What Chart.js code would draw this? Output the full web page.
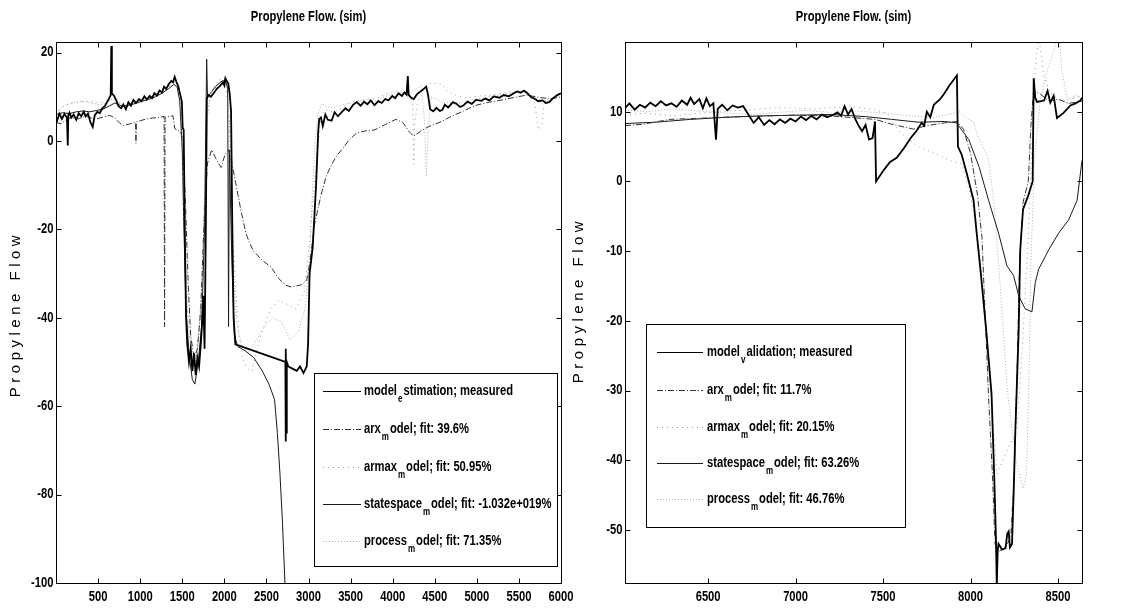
<!DOCTYPE html>
<html><head><meta charset="utf-8">
<script src="https://cdn.jsdelivr.net/npm/chart.js@4.4.1/dist/chart.umd.min.js"></script>
<style>
html,body{margin:0;padding:0;background:#fff;}
#wrap{position:relative;width:1122px;height:610px;background:#fff;}
canvas{position:absolute;left:0;top:0;}
</style></head><body>
<div id="wrap"><canvas id="c1"></canvas><canvas id="c2"></canvas></div>
<script>
// ---------- data: left panel (estimation) ----------
const estXTicks = [500,1000,1500,2000,2500,3000,3500,4000,4500,5000,5500,6000];
const estYTicks = [-100,-80,-60,-40,-20,0,20];
const estMeasured = [[0,5.5],[13,4.6],[40,6.2],[70,5.0],[100,6.1],[130,5.3],[140,-1],[146,5.8],[160,6.4],[182,5.3],[210,6.0],[240,4.8],[270,6.3],[300,5.6],[330,6.6],[352,5.6],[380,6.2],[410,4.2],[436,3.2],[460,5.8],[490,6.6],[521,6.3],[550,7.4],[580,7.9],[606,8.8],[630,9.6],[650,10.4],[657,21.5],[664,10.8],[690,10.2],[720,9.0],[745,7.8],[775,7.4],[800,8.3],[830,7.2],[860,8.8],[890,8.0],[920,9.3],[950,8.6],[987,9.5],[1015,9.0],[1050,10.1],[1080,9.4],[1114,10.2],[1140,9.7],[1170,10.8],[1200,10.3],[1230,11.4],[1260,11.0],[1284,12.3],[1310,11.8],[1340,12.9],[1370,13.6],[1390,13.3],[1410,14.5],[1430,13.4],[1453,12.3],[1475,10.6],[1496,8.8],[1505,3.0],[1517,2.5],[1530,-20],[1545,-40],[1560,-46],[1580,-50],[1600,-47],[1620,-52],[1640,-48],[1660,-53],[1680,-49],[1700,-51],[1720,-46],[1740,-40],[1750,-35],[1765,-47],[1780,-20],[1792,9.5],[1810,10.4],[1840,10.0],[1877,10.9],[1910,11.8],[1940,12.3],[1965,12.8],[1983,13.3],[2000,12.6],[2012,14.2],[2030,13.5],[2047,13.0],[2065,10.5],[2080,6.7],[2095,-20],[2110,-40],[2131,-46],[2725,-50],[2728,-68],[2732,-47],[2736,-66],[2742,-50],[2760,-51],[2809,-51.5],[2860,-52],[2900,-51],[2940,-52.5],[2979,-51],[2995,-46],[3013,-30],[3050,-24],[3090,-10],[3115,2],[3127,5],[3148,5.3],[3170,3.4],[3200,6.0],[3230,4.8],[3275,4.6],[3310,6.5],[3350,5.6],[3403,6.7],[3440,7.4],[3480,6.8],[3530,8.2],[3572,8.8],[3620,8.0],[3660,8.9],[3700,8.3],[3740,9.2],[3784,8.1],[3830,9.0],[3870,8.6],[3911,9.5],[3950,9.2],[3996,10.2],[4030,9.7],[4070,10.8],[4110,10.2],[4140,11.0],[4165,10.5],[4180,14.7],[4190,10.4],[4220,9.8],[4250,9.5],[4290,10.6],[4330,11.2],[4370,11.8],[4398,12.3],[4420,10.5],[4445,7.2],[4483,6.7],[4520,7.5],[4560,6.8],[4589,7.0],[4620,8.2],[4660,7.6],[4716,8.8],[4760,8.4],[4800,7.7],[4843,8.1],[4890,8.9],[4940,8.4],[4990,9.3],[5055,9.1],[5100,9.6],[5150,9.2],[5200,10.1],[5267,9.8],[5320,10.4],[5380,10.1],[5440,10.8],[5480,11.2],[5521,10.9],[5560,11.4],[5600,10.8],[5640,10.0],[5691,9.5],[5730,9.0],[5780,9.2],[5820,8.6],[5860,8.8],[5900,9.6],[5940,10.2],[5966,10.5],[6000,10.8]];
const estArx = [[0,4.2],[60,3.9],[120,4.8],[182,5.3],[260,5.0],[352,5.6],[420,5.2],[480,5.0],[560,5.4],[640,5.8],[700,5.2],[760,4.0],[800,3.5],[860,3.8],[945,4.2],[950,-0.5],[956,4.3],[1000,4.6],[1060,4.9],[1150,5.2],[1250,5.4],[1284,5.6],[1290,-42],[1296,5.4],[1330,5.5],[1390,5.7],[1411,2.8],[1450,2.4],[1480,2.1],[1510,0],[1540,-15],[1570,-32],[1600,-44],[1640,-49],[1680,-47],[1720,-38],[1760,-18],[1800,-5],[1850,-2],[1900,-4],[1960,-6],[2010,-3],[2050,-2],[2090,-5],[2140,-10],[2200,-16],[2258,-21],[2300,-23],[2343,-24.8],[2450,-27],[2555,-28.5],[2640,-31],[2725,-32.6],[2790,-33],[2852,-32.8],[2920,-32.5],[2979,-31.5],[3020,-27],[3070,-19],[3148,-12.3],[3210,-8],[3275,-5.3],[3340,-3.2],[3403,-1.8],[3480,0.2],[3572,1.8],[3680,2.3],[3784,2.5],[3900,3.6],[4038,4.9],[4120,4.2],[4200,2.0],[4250,1.1],[4330,2.2],[4420,3.2],[4500,3.8],[4589,4.5],[4700,5.6],[4843,6.8],[4930,7.6],[5013,8.2],[5150,8.8],[5300,9.3],[5450,9.9],[5600,10.4],[5750,9.8],[5900,9.6],[6000,10.0]];
const estArmax = [[0,6],[50,7.2],[100,8.0],[180,8.6],[260,8.8],[352,9.0],[440,8.9],[520,8.6],[600,9.2],[700,9.5],[800,8.0],[900,8.2],[1000,8.6],[1100,9.5],[1200,10.6],[1300,11.8],[1380,13.0],[1430,12.5],[1470,8],[1500,-5],[1530,-25],[1560,-38],[1600,-45],[1640,-52],[1670,-48],[1700,-42],[1740,-30],[1770,-10],[1800,6],[1840,11],[1900,13],[1960,14],[2010,13],[2060,5],[2100,-20],[2140,-35],[2173,-44],[2230,-50],[2290,-51.9],[2330,-52],[2385,-47],[2450,-43],[2550,-38],[2650,-36],[2750,-37],[2850,-38],[2950,-34],[3000,-25],[3060,-12],[3110,-2],[3150,6],[3200,7],[3300,6.5],[3400,7.5],[3500,8.8],[3600,9.2],[3700,9.5],[3800,9.6],[3900,10.5],[4000,11.2],[4100,11.4],[4200,10.8],[4240,8],[4250,-5.3],[4262,4],[4300,9],[4380,11.5],[4460,13.2],[4530,13.0],[4590,12.8],[4650,11.2],[4750,10.4],[4850,9.8],[5000,10.1],[5150,10.4],[5300,10.8],[5450,11.3],[5600,11.0],[5690,8.5],[5730,2.5],[5775,4],[5800,8.5],[5900,9.8],[6000,10.5]];
const estStatespace = [[0,6.0],[80,6.4],[160,6.2],[240,6.6],[320,6.8],[400,6.6],[480,6.9],[560,7.2],[640,8.0],[700,8.6],[780,7.9],[860,8.0],[940,8.5],[1020,9.0],[1100,9.4],[1180,10.0],[1260,10.8],[1340,11.9],[1400,12.8],[1440,12.2],[1470,9],[1500,-2],[1520,-20],[1545,-38],[1580,-48],[1620,-54],[1650,-55],[1690,-50],[1730,-42],[1765,-20],[1790,18.5],[1800,10],[1850,11.2],[1900,12.4],[1960,13.4],[2010,13.8],[2040,12],[2050,-42],[2060,-2],[2090,-28],[2120,-44],[2160,-46.5],[2250,-47.5],[2350,-49],[2450,-52],[2530,-55],[2597,-58.5],[2630,-66],[2660,-75],[2690,-86],[2720,-100],[2750,-116]];
const estProcess = [[0,6.5],[60,7.5],[120,8.2],[200,8.6],[280,9.0],[360,8.8],[440,8.5],[520,8.2],[600,8.6],[680,9.6],[760,8.4],[840,7.8],[920,8.4],[1000,9.0],[1080,9.6],[1160,10.2],[1240,10.9],[1320,12.0],[1400,13.5],[1450,13],[1480,10],[1510,-8],[1540,-28],[1570,-42],[1610,-48],[1650,-50],[1690,-46],[1730,-36],[1760,-15],[1790,4],[1830,10],[1880,12],[1940,13],[2000,14],[2040,11],[2070,0],[2100,-25],[2140,-40],[2200,-46],[2280,-48],[2380,-45],[2480,-42],[2580,-40],[2680,-41],[2780,-45],[2880,-43],[2960,-38],[3010,-28],[3050,-10],[3080,0],[3110,6],[3160,8.5],[3220,7.8],[3300,7.5],[3400,8.2],[3500,8.6],[3600,9.1],[3700,9.3],[3800,9.0],[3900,10],[4000,10.6],[4100,11],[4200,10.4],[4280,11.8],[4340,12.6],[4380,4],[4400,-8],[4420,2],[4460,10],[4520,9.5],[4600,8.6],[4700,8.8],[4800,8.6],[4900,9.2],[5000,9.5],[5100,9.8],[5200,10.3],[5300,10.5],[5400,10.8],[5500,11.4],[5600,11.2],[5700,9.6],[5800,9.0],[5900,9.8],[6000,10.6]];
const estLegend = [["model","e","stimation; measured"],["arx","m","odel; fit: 39.6%"],["armax","m","odel; fit: 50.95%"],["statespace","m","odel; fit: -1.032e+019%"],["process","m","odel; fit: 71.35%"]];

// ---------- data: right panel (validation) ----------
const valXTicks = [6500,7000,7500,8000,8500];
const valYTicks = [-50,-40,-30,-20,-10,0,10];
const valMeasured = [[6025,10.5],[6050,11.2],[6080,10.3],[6110,11.0],[6140,10.6],[6170,11.3],[6200,10.8],[6230,11.5],[6260,10.9],[6290,11.2],[6320,10.7],[6350,11.6],[6380,11.0],[6400,12.0],[6420,11.1],[6450,11.8],[6470,10.5],[6490,11.9],[6510,10.8],[6530,11.2],[6545,6.0],[6555,10.4],[6580,11.0],[6610,10.2],[6640,10.9],[6670,10.6],[6700,10.8],[6730,9.6],[6760,8.4],[6790,9.2],[6820,8.1],[6850,8.8],[6880,8.2],[6910,8.9],[6940,8.4],[6970,9.0],[7000,8.6],[7030,9.3],[7060,8.8],[7090,9.4],[7120,8.9],[7150,9.6],[7180,9.2],[7210,9.5],[7240,9.9],[7260,9.4],[7280,10.8],[7300,9.6],[7320,10.4],[7340,9.0],[7360,8.0],[7380,7.2],[7400,8.1],[7420,6.0],[7440,6.2],[7454,8.6],[7460,0],[7500,1.5],[7540,2.8],[7578,3.4],[7620,4.8],[7660,6.3],[7693,7.3],[7720,8.4],[7735,8.0],[7750,10],[7770,9.2],[7790,11.0],[7826,11.8],[7850,12.6],[7880,13.8],[7910,14.8],[7922,15.2],[7928,5.0],[7950,3.8],[7980,1.0],[8017,-2.7],[8035,-7.4],[8060,-13.5],[8090,-21.5],[8120,-30.5],[8135,-42],[8145,-51],[8150,-58],[8155,-53],[8160,-52],[8180,-52.8],[8200,-52.6],[8210,-50.5],[8218,-50.2],[8225,-52.5],[8237,-52],[8246,-45],[8256,-35.7],[8265,-29],[8275,-21.5],[8284,-9.8],[8300,-4],[8330,-2],[8355,0],[8361,14.8],[8370,12],[8380,11.4],[8420,11.6],[8440,13],[8456,11.3],[8475,12.3],[8494,9.1],[8530,9.8],[8571,10.9],[8600,11.2],[8628,11.6],[8637,12.0]];
const valArx = [[6025,8.0],[6128,8.2],[6281,8.9],[6490,9.1],[6700,9.3],[6987,9.5],[7200,9.4],[7454,8.9],[7550,8.2],[7674,7.5],[7750,8.0],[7850,8.4],[7922,8.6],[7960,7.5],[8000,4],[8040,-2],[8065,-8],[8085,-20],[8103,-31],[8125,-42],[8140,-52],[8165,-53],[8200,-52.5],[8230,-51],[8250,-42],[8265,-28],[8280,-12],[8300,-3],[8330,0],[8345,8],[8360,13],[8400,12.5],[8450,11.5],[8500,11.8],[8560,11.2],[8637,11.5]];
const valArmax = [[6025,9.6],[6150,9.8],[6300,9.4],[6500,9.9],[6700,10.2],[6900,10.6],[7100,10.4],[7300,10.8],[7450,10.3],[7520,9.8],[7600,7.0],[7700,5.0],[7800,4.0],[7880,3.0],[7950,2.6],[8000,-2],[8050,-10],[8100,-25],[8151,-42],[8200,-39],[8265,-35.7],[8300,-22],[8330,-8],[8350,5],[8370,16],[8389,21],[8420,15],[8460,12.5],[8520,11.5],[8580,12.0],[8637,12.2]];
const valStatespace = [[6025,8.3],[6200,8.5],[6400,8.9],[6600,9.2],[6800,9.4],[7000,9.5],[7200,9.6],[7400,9.3],[7550,8.9],[7700,8.5],[7850,8.6],[7920,8.4],[7990,6],[8050,2],[8103,-2.7],[8160,-7.4],[8208,-12.1],[8246,-13.5],[8275,-16.4],[8313,-18.3],[8351,-18.7],[8370,-14.5],[8389,-12.6],[8447,-9.8],[8504,-7.4],[8561,-5.5],[8609,-2.7],[8637,3]];
const valProcess = [[6025,10.2],[6150,10.0],[6300,10.4],[6450,10.1],[6600,9.8],[6750,9.6],[6900,9.9],[7050,10.2],[7200,9.9],[7350,10.1],[7500,9.8],[7650,9.4],[7800,9.2],[7940,10],[7980,9],[8017,8.6],[8036,6.8],[8070,5],[8103,3.2],[8132,-2.7],[8170,-15],[8210,-30],[8260,-40],[8300,-44],[8320,-42],[8332,-30],[8345,-12],[8365,3],[8400,12],[8440,16],[8480,19],[8504,23],[8520,16],[8560,11],[8600,12.5],[8637,12.0]];
const valLegend = [["model","v","alidation; measured"],["arx","m","odel; fit: 11.7%"],["armax","m","odel; fit: 20.15%"],["statespace","m","odel; fit: 63.26%"],["process","m","odel; fit: 46.76%"]];

const titleText = "Propylene Flow. (sim)";
const yLabelText = "Propylene Flow";

// ---------- styling ----------
const FONT = "'Liberation Sans', Arial, sans-serif";
const SX = 0.8; // horizontal compression to imitate a narrow face
const STYLES = [
  {borderColor:'#000', borderWidth:1.8, borderDash:[]},
  {borderColor:'#333', borderWidth:1, borderDash:[6,2,1,2]},
  {borderColor:'#9a9a9a', borderWidth:1, borderDash:[1,4]},
  {borderColor:'#1a1a1a', borderWidth:1, borderDash:[]},
  {borderColor:'#b0b0b0', borderWidth:1, borderDash:[1,2]}
];

function toXY(pairs){ return pairs.map(p => ({x:p[0], y:p[1]})); }
function makeSets(list){
  return list.map((pairs,i) => Object.assign({data: toXY(pairs), pointRadius:0, fill:false, tension:0}, STYLES[i]));
}

function narrowText(ctx, text, x, y, align, font){
  ctx.save();
  ctx.font = font;
  ctx.textAlign = align; ctx.textBaseline = 'middle';
  ctx.translate(x, y); ctx.scale(SX, 1);
  ctx.fillText(text, 0, 0);
  const w = ctx.measureText(text).width * SX;
  ctx.restore();
  return w;
}

const deco = {
  id:'deco',
  afterDatasetsDraw(chart, args, o){
    const ctx = chart.ctx, a = chart.chartArea, xs = chart.scales.x, ys = chart.scales.y;
    ctx.save();
    // box
    ctx.strokeStyle = '#000'; ctx.lineWidth = 1; ctx.setLineDash([]);
    const L = Math.round(a.left)+0.5, T = Math.round(a.top)+0.5, R = Math.round(a.right)+0.5, B = Math.round(a.bottom)+0.5;
    ctx.strokeRect(L, T, R-L, B-T);
    // inward ticks
    ctx.beginPath();
    xs.ticks.forEach(t => { const p = Math.round(xs.getPixelForValue(t.value))+0.5; ctx.moveTo(p,B); ctx.lineTo(p,B-5); ctx.moveTo(p,T); ctx.lineTo(p,T+5); });
    ys.ticks.forEach(t => { const p = Math.round(ys.getPixelForValue(t.value))+0.5; ctx.moveTo(L,p); ctx.lineTo(L+5,p); ctx.moveTo(R,p); ctx.lineTo(R-5,p); });
    ctx.stroke();
    // tick labels
    ctx.fillStyle = '#000';
    const tf = 'bold 14px ' + FONT;
    xs.ticks.forEach(t => narrowText(ctx, String(t.value), xs.getPixelForValue(t.value), B + 14, 'center', tf));
    ys.ticks.forEach(t => narrowText(ctx, String(t.value), L - 3, ys.getPixelForValue(t.value), 'right', tf));
    // legend
    const g = o.legend;
    ctx.fillStyle = '#fff';
    ctx.fillRect(g.x, g.y, g.w, g.h);
    ctx.strokeStyle = '#000';
    ctx.strokeRect(g.x+0.5, g.y+0.5, g.w, g.h);
    g.labels.forEach((parts, i) => {
      const y = g.rows[i];
      const ds = chart.data.datasets[i];
      ctx.save();
      ctx.strokeStyle = ds.borderColor; ctx.lineWidth = Math.min(ds.borderWidth, 1.2);
      ctx.setLineDash(ds.borderDash || []);
      ctx.beginPath(); ctx.moveTo(g.lx1, y+0.5); ctx.lineTo(g.lx2, y+0.5); ctx.stroke();
      ctx.restore();
      ctx.fillStyle = '#000';
      let x = g.tx;
      x += narrowText(ctx, parts[0], x, y, 'left', 'bold 14px ' + FONT) + 1;
      x += narrowText(ctx, parts[1], x, y + 8, 'left', 'bold 10px ' + FONT) + 1;
      narrowText(ctx, parts[2], x, y, 'left', 'bold 14px ' + FONT);
    });
    // title
    ctx.fillStyle = '#000';
    narrowText(ctx, titleText, (a.left+a.right)/2, 17, 'center', 'bold 14px ' + FONT);
    // y label
    ctx.translate(o.yLabelX, o.yLabelY);
    ctx.rotate(-Math.PI/2);
    ctx.font = '15px ' + FONT;
    ctx.textAlign = 'center'; ctx.textBaseline = 'middle';
    ctx.letterSpacing = '4.5px';
    ctx.fillText(yLabelText, 0, 0);
    ctx.restore();
  }
};

function axisOpts(min, max, tickList, size, isX){
  return {
    type:'linear', min:min, max:max,
    afterBuildTicks: s => { s.ticks = tickList.map(v => ({value:v})); },
    afterFit: s => { if (isX) s.height = size; else s.width = size; },
    grid:{display:false, drawTicks:false},
    border:{display:false},
    ticks:{display:false}
  };
}

function makeChart(id, sets, xr, yr, xt, yt, ywidth, pad, decoOpts){
  const cv = document.getElementById(id);
  cv.width = 1122; cv.height = 610; cv.style.width = '1122px'; cv.style.height = '610px';
  return new Chart(cv, {
    type:'line',
    data:{datasets: makeSets(sets)},
    options:{
      responsive:false, animation:false, devicePixelRatio:1,
      layout:{padding:pad},
      plugins:{legend:{display:false}, tooltip:{enabled:false}, title:{display:false}, deco:decoOpts},
      scales:{ x: axisOpts(xr[0], xr[1], xt, 27, true), y: axisOpts(yr[0], yr[1], yt, ywidth, false) }
    },
    plugins:[deco]
  });
}

makeChart('c1', [estMeasured, estArx, estArmax, estStatespace, estProcess],
  [0,6000], [-100,22.4], estXTicks, estYTicks, 56,
  {left:0, top:42, right:561, bottom:0},
  {yLabelX:16, yLabelY:314,
   legend:{x:314, y:373, w:243, h:193, rows:[391,429,467,504,541], lx1:323, lx2:361, tx:364, labels:estLegend}});

makeChart('c2', [valMeasured, valArx, valArmax, valStatespace, valProcess],
  [6025,8637], [-57.6,20], valXTicks, valYTicks, 60,
  {left:565, top:42, right:40, bottom:0},
  {yLabelX:579, yLabelY:300,
   legend:{x:646, y:324, w:259, h:203, rows:[352,390,427,463,499], lx1:657, lx2:703, tx:707, labels:valLegend}});
</script>
</body></html>
